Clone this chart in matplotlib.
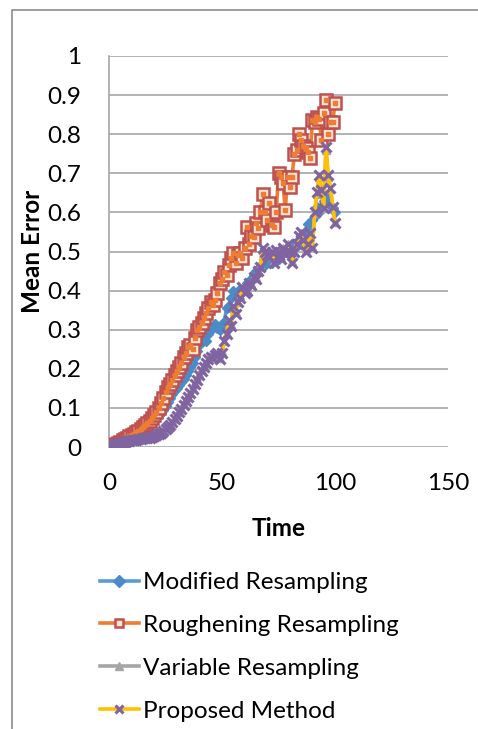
import matplotlib
matplotlib.use("Agg")
import matplotlib.pyplot as plt
from matplotlib.patches import Rectangle

time = list(range(1, 101))

modified = [0.003,0.005,0.007,0.010,0.013,0.016,0.019,0.022,0.026,0.030,
            0.033,0.036,0.040,0.044,0.048,0.052,0.056,0.061,0.066,0.071,
            0.076,0.082,0.088,0.095,0.105,0.115,0.125,0.135,0.145,0.150,
            0.158,0.166,0.175,0.185,0.195,0.205,0.215,0.230,0.245,0.260,
            0.270,0.280,0.270,0.290,0.300,0.310,0.315,0.305,0.300,0.310,
            0.320,0.355,0.360,0.380,0.400,0.390,0.395,0.405,0.400,0.410,
            0.420,0.415,0.430,0.440,0.450,0.455,0.460,0.470,0.465,0.475,
            0.480,0.470,0.485,0.490,0.480,0.495,0.500,0.505,0.495,0.500,
            0.510,0.520,0.515,0.530,0.540,0.537,0.550,0.570,0.560,0.580,
            0.590,0.613,0.600,0.610,0.630,0.640,0.625,0.620,0.610,0.600]

roughening = [0.003,0.005,0.008,0.011,0.014,0.017,0.020,0.024,0.027,0.031,
              0.034,0.038,0.042,0.046,0.050,0.055,0.061,0.067,0.074,0.082,
              0.090,0.100,0.112,0.125,0.140,0.153,0.160,0.172,0.184,0.195,
              0.205,0.215,0.230,0.240,0.255,0.262,0.250,0.280,0.298,0.307,
              0.318,0.330,0.343,0.355,0.370,0.362,0.375,0.395,0.420,0.430,
              0.448,0.440,0.465,0.483,0.496,0.470,0.490,0.496,0.483,0.510,
              0.563,0.520,0.540,0.537,0.573,0.560,0.600,0.648,0.600,0.580,
              0.624,0.568,0.563,0.600,0.700,0.690,0.675,0.606,0.690,0.665,
              0.690,0.750,0.760,0.800,0.785,0.770,0.765,0.755,0.740,0.836,
              0.830,0.845,0.840,0.785,0.854,0.887,0.800,0.830,0.830,0.880]

variable = [0.003,0.005,0.007,0.009,0.011,0.013,0.014,0.015,0.016,0.017,
            0.018,0.019,0.020,0.021,0.022,0.023,0.024,0.025,0.026,0.028,
            0.031,0.034,0.038,0.042,0.046,0.051,0.057,0.064,0.072,0.081,
            0.090,0.099,0.109,0.119,0.129,0.139,0.150,0.162,0.174,0.186,
            0.196,0.206,0.216,0.224,0.229,0.230,0.236,0.238,0.228,0.245,
            0.272,0.292,0.320,0.315,0.355,0.345,0.372,0.385,0.405,0.398,
            0.405,0.418,0.420,0.432,0.435,0.452,0.465,0.505,0.498,0.492,
            0.488,0.498,0.475,0.502,0.492,0.485,0.508,0.498,0.518,0.502,
            0.475,0.502,0.522,0.538,0.548,0.532,0.505,0.522,0.545,0.515,
            0.598,0.648,0.690,0.655,0.612,0.760,0.690,0.660,0.612,0.575]

proposed = [0.003,0.005,0.007,0.009,0.011,0.013,0.014,0.015,0.016,0.017,
            0.018,0.019,0.020,0.021,0.022,0.022,0.023,0.024,0.025,0.027,
            0.030,0.033,0.037,0.041,0.045,0.050,0.056,0.063,0.071,0.080,
            0.089,0.098,0.108,0.118,0.128,0.138,0.148,0.160,0.172,0.185,
            0.195,0.205,0.215,0.225,0.230,0.228,0.235,0.240,0.225,0.240,
            0.270,0.290,0.325,0.310,0.360,0.340,0.370,0.380,0.410,0.395,
            0.400,0.420,0.415,0.435,0.430,0.450,0.460,0.510,0.500,0.490,
            0.486,0.500,0.470,0.504,0.490,0.480,0.510,0.495,0.520,0.500,
            0.470,0.500,0.520,0.540,0.550,0.530,0.500,0.520,0.547,0.510,
            0.600,0.652,0.695,0.657,0.610,0.767,0.695,0.662,0.614,0.573]

series_names = ["Modified Resampling", "Roughening Resampling",
                "Variable Resampling", "Proposed Method"]
x_ticks = [0, 50, 100, 150]
y_ticks = [0, 0.1, 0.2, 0.3, 0.4, 0.5, 0.6, 0.7, 0.8, 0.9, 1]
y_ticklabels = ["0", "0.1", "0.2", "0.3", "0.4", "0.5", "0.6", "0.7", "0.8", "0.9", "1"]

plt.rcParams['font.family'] = ['Lato', 'DejaVu Sans']

W, H = 478, 729
fig = plt.figure(figsize=(W / 100, H / 100), dpi=100)
fig.patch.set_facecolor("white")

# outer chart border (cropped on right/bottom)
fig.patches.append(Rectangle((12 / W, -0.05), 1.2, 1 - 10 / H + 0.05,
                             transform=fig.transFigure, fill=False,
                             edgecolor="#8C8C8C", linewidth=1.2))

left, right = 109 / W, 448 / W
bottom, top = 1 - 447 / H, 1 - 56 / H
ax = fig.add_axes([left, bottom, right - left, top - bottom])

grid_c = "#A6A6A6"
ax.set_xlim(0, 150)
ax.set_ylim(0, 1)
for y in y_ticks:
    ax.axhline(y, color=grid_c, linewidth=1.2, zorder=0)
for s in ["top", "right", "bottom"]:
    ax.spines[s].set_visible(False)
ax.spines["left"].set_color(grid_c)
ax.spines["left"].set_linewidth(1.2)

fs = 17.5
lw = 2.6
l1, = ax.plot(time, modified, color="#5B9BD5", linewidth=lw, marker="D",
              markersize=5, markerfacecolor="#4A8BC8", markeredgecolor="#4A8BC8",
              zorder=2, label=series_names[0])
l2, = ax.plot(time, roughening, color="#ED7D31", linewidth=lw, marker="s",
              markersize=9, markerfacecolor="#FBE3D4", markeredgecolor="#C0504D",
              markeredgewidth=1.8, zorder=3, label=series_names[1])
ax.plot(time, roughening, linestyle="none", marker="s", markersize=3.5,
        markerfacecolor="#ED7D31", markeredgecolor="#ED7D31", zorder=3.1)
l3, = ax.plot(time, variable, color="#A5A5A5", linewidth=lw, marker="^",
              markersize=6, markerfacecolor="#A5A5A5", markeredgecolor="#A5A5A5",
              zorder=4, label=series_names[2])
l4, = ax.plot(time, proposed, color="#FFC000", linewidth=lw, marker="x",
              markersize=7.5, markeredgecolor="#8064A2", markeredgewidth=2.2,
              zorder=5, label=series_names[3])

ax.set_xticks(x_ticks)
ax.set_xticklabels([str(v) for v in x_ticks])
ax.set_yticks(y_ticks)
ax.set_yticklabels(y_ticklabels)
ax.tick_params(axis="both", length=0, labelsize=fs, colors="black")
ax.tick_params(axis="y", pad=20)
ax.tick_params(axis="x", pad=19)

ax.set_xlabel("Time", fontsize=fs, fontweight="bold", labelpad=16)
ax.set_ylabel("Mean Error", fontsize=fs, fontweight="bold")
ax.yaxis.label.set_va("center")
ax.yaxis.set_label_coords((33 - 109) / 339, 0.5)

leg = fig.legend(handles=[l1, l2, l3, l4], labels=series_names,
                 loc="upper left", bbox_to_anchor=(100 / W, 1 - 572 / H),
                 frameon=False, fontsize=fs, handlelength=1.6,
                 handletextpad=0.15, labelspacing=0.9, borderaxespad=0,
                 borderpad=0)
for h in leg.legend_handles:
    h.set_markersize(6)

fig.savefig("out.png", dpi=100, facecolor="white")
